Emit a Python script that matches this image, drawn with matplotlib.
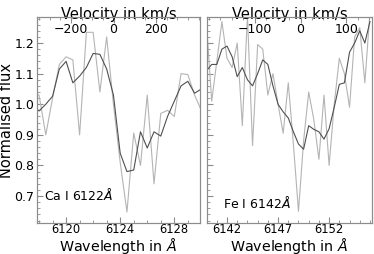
import numpy as np
import matplotlib
matplotlib.use("Agg")
import matplotlib.pyplot as plt
from matplotlib.ticker import MultipleLocator

# ---- data ----
ca_wave = [6117.5 + 0.5 * i for i in range(26)]
ca_raw = [1.04, 1.03, 0.90, 1.02, 1.13, 1.155, 1.145, 0.90, 1.235, 1.235, 1.04, 1.22, 1.00,
          0.81, 0.648, 0.906, 0.80, 1.03, 0.74, 0.97, 0.98, 0.96, 1.10, 1.097, 1.03, 0.98]
ca_smooth = [1.00, 0.978, 1.0, 1.026, 1.115, 1.14, 1.07, 1.092, 1.12, 1.166, 1.163, 1.115, 1.03,
             0.84, 0.78, 0.785, 0.91, 0.857, 0.91, 0.896, 0.96, 1.01, 1.06, 1.075, 1.036, 1.05]

fe_wave = [6140.0 + 0.5 * k for k in range(33)]
fe_raw = [1.26, 1.01, 1.14, 1.27, 1.15, 1.12, 1.20, 0.93, 1.29, 0.865, 1.195, 1.18, 1.03, 1.10,
          1.00, 0.905, 1.07, 0.87, 0.65, 0.88, 1.04, 0.95, 0.82, 1.03, 0.80, 1.00, 1.15, 1.10,
          0.99, 1.22, 1.25, 1.07, 1.30]
fe_smooth = [1.11, 1.13, 1.13, 1.18, 1.19, 1.155, 1.09, 1.12, 1.08, 1.06, 1.10, 1.145, 1.13, 1.06,
             1.00, 0.975, 0.955, 0.91, 0.87, 0.853, 0.93, 0.918, 0.91, 0.886, 0.92, 0.99, 1.065,
             1.07, 1.17, 1.20, 1.24, 1.20, 1.27]

ca_label = r"Ca I 6122$\AA$"
fe_label = r"Fe I 6142$\AA$"
ca_xticks = [6120, 6124, 6128]
fe_xticks = [6142, 6147, 6152]
ca_vticks = [-200, 0, 200]
fe_vticks = [-100, 0, 100]
yticks = [0.7, 0.8, 0.9, 1.0, 1.1, 1.2]

RAW_C = "#b4b4b4"
SM_C = "#505050"
SPINE_C = "#8c8c8c"

fig = plt.figure(figsize=(3.74, 2.54), dpi=100)
axL = fig.add_axes([37/374, 31/254, 163/374, 206/254])
axR = fig.add_axes([207/374, 31/254, 165/374, 206/254], sharey=axL)

panels = [
    (axL, ca_wave, ca_raw, ca_smooth, (6117.85, 6129.9), ca_xticks, (-360, 407), ca_vticks, 50, ca_label, (0.04, 0.135)),
    (axR, fe_wave, fe_raw, fe_smooth, (6140.04, 6156.2), fe_xticks, (-204, 156), fe_vticks, 25, fe_label, (0.095, 0.097)),
]

for ax, w, raw, sm, xl, xt, vl, vt, vminor, lab, pos in panels:
    ax.plot(w, raw, color=RAW_C, lw=0.8)
    ax.plot(w, sm, color=SM_C, lw=0.8)
    ax.set_xlim(*xl)
    ax.set_xticks(xt)
    ax.xaxis.set_minor_locator(MultipleLocator(1))
    ax.set_xlabel(r"Wavelength in $\AA$", fontsize=10.3)
    ax.xaxis.label.set_verticalalignment("baseline")
    ax.xaxis.set_label_coords(0.5, -0.1335)
    ax.tick_params(axis="both", which="both", direction="in", labelsize=9, pad=2,
                   color=SPINE_C, top=False, right=False)
    ax.tick_params(axis="x", labelsize=8.3, pad=0.3)
    ax.tick_params(which="major", length=4)
    ax.tick_params(which="minor", length=2)
    for s in ax.spines.values():
        s.set_color(SPINE_C)
        s.set_linewidth(0.8)
    ax.text(pos[0], pos[1], lab, transform=ax.transAxes, fontsize=9, va="center", ha="left")

    top = ax.twiny()
    top.set_xlim(*vl)
    top.set_xticks(vt)
    top.xaxis.set_minor_locator(MultipleLocator(vminor))
    top.tick_params(axis="x", which="both", direction="in", labelsize=9, pad=-13.5, color=SPINE_C)
    top.tick_params(which="major", length=4)
    top.tick_params(which="minor", length=2)
    for s in top.spines.values():
        s.set_color(SPINE_C)
        s.set_linewidth(0.8)
    top.set_xlabel("Velocity in km/s", fontsize=10.5, labelpad=-1.5)

axL.set_ylim(0.612, 1.285)
axL.set_yticks(yticks)
axL.yaxis.set_minor_locator(MultipleLocator(0.02))
axL.set_ylabel("Normalised flux", fontsize=10.5, labelpad=0)
plt.setp(axR.get_yticklabels(), visible=False)

fig.savefig("out.png", dpi=100)
